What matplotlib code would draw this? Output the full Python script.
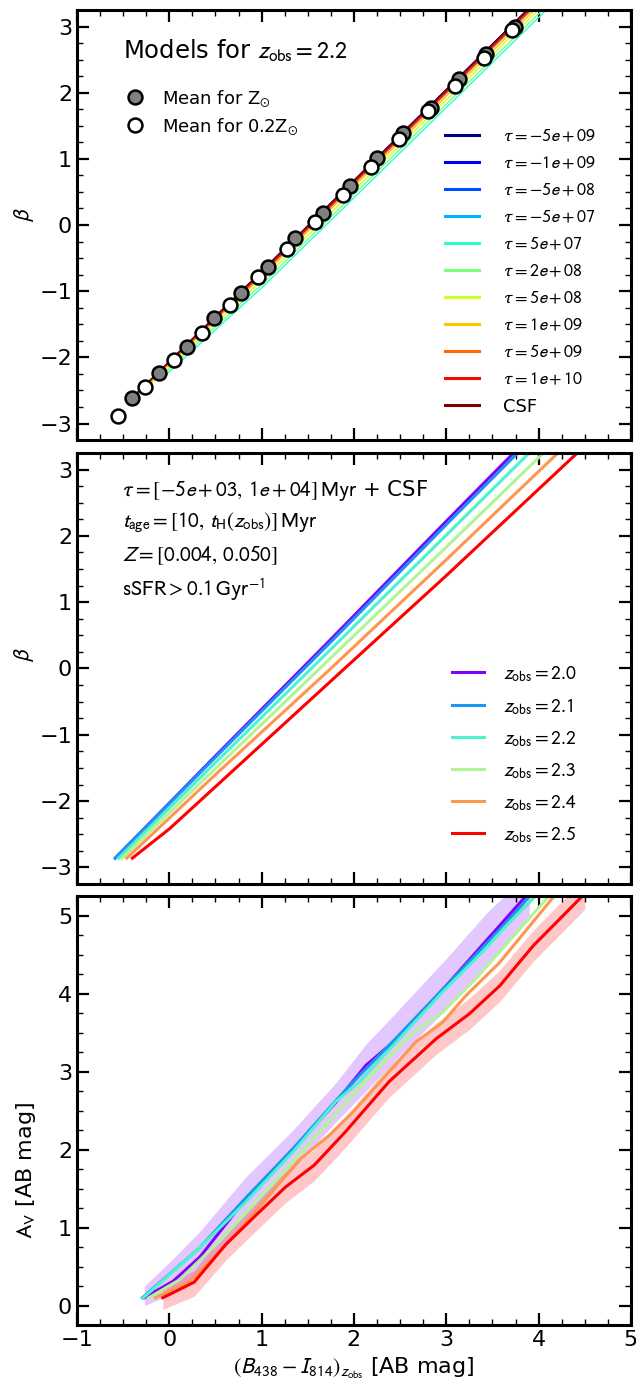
import numpy as np
import matplotlib
matplotlib.use("Agg")
import matplotlib.pyplot as plt
from matplotlib.ticker import MultipleLocator

plt.rcParams['mathtext.fontset'] = 'stixsans'
plt.rcParams['font.family'] = 'DejaVu Sans'

# ---- top panel: beta vs colour for z_obs = 2.2 ----
tau_labels = [r'$\tau=-5e+09$', r'$\tau=-1e+09$', r'$\tau=-5e+08$', r'$\tau=-5e+07$',
              r'$\tau=5e+07$', r'$\tau=2e+08$', r'$\tau=5e+08$', r'$\tau=1e+09$',
              r'$\tau=5e+09$', r'$\tau=1e+10$', 'CSF']
tau_x = [[-0.40, 1.0, 3.95], [-0.40, 1.0, 3.95], [-0.39, 1.0, 3.96], [-0.37, 1.0, 3.98],
         [-0.05, 1.0, 4.12], [-0.10, 1.0, 4.08], [-0.20, 1.0, 4.03], [-0.30, 1.0, 4.00],
         [-0.35, 1.0, 3.97], [-0.38, 1.0, 3.96], [-0.40, 1.0, 3.95]]
tau_b = [[-2.61, -0.70, 3.35], [-2.61, -0.70, 3.35], [-2.60, -0.71, 3.34], [-2.58, -0.74, 3.33],
         [-2.28, -0.95, 3.30], [-2.30, -0.90, 3.30], [-2.40, -0.84, 3.30], [-2.50, -0.78, 3.31],
         [-2.55, -0.75, 3.32], [-2.58, -0.73, 3.33], [-2.61, -0.70, 3.35]]

mean_sol_x = [-0.404, -0.108, 0.187, 0.48, 0.777, 1.073, 1.36, 1.66, 1.958, 2.246, 2.535, 2.835, 3.135, 3.43, 3.74]
mean_sol_b = [-2.61, -2.23, -1.84, -1.41, -1.03, -0.63, -0.20, 0.175, 0.588, 1.02, 1.397, 1.774, 2.21, 2.58, 3.0]
mean_low_x = [-0.56, -0.26, 0.047, 0.354, 0.658, 0.965, 1.27, 1.574, 1.877, 2.185, 2.49, 2.80, 3.09, 3.41, 3.71]
mean_low_b = [-2.89, -2.45, -2.04, -1.63, -1.21, -0.79, -0.36, 0.05, 0.457, 0.87, 1.30, 1.72, 2.10, 2.53, 2.94]

# ---- middle panel: beta vs colour for several z_obs ----
z_labels = [r'$z_{\rm obs}=2.0$', r'$z_{\rm obs}=2.1$', r'$z_{\rm obs}=2.2$',
            r'$z_{\rm obs}=2.3$', r'$z_{\rm obs}=2.4$', r'$z_{\rm obs}=2.5$']
beta_x = [[-0.585, 0.5, 1.75, 3.0, 3.85],
          [-0.585, 0.5, 1.75, 3.0, 3.88],
          [-0.55, 0.5, 1.75, 3.0, 4.0],
          [-0.51, 0.5, 1.75, 3.0, 4.15],
          [-0.46, 0.5, 1.75, 3.0, 4.3],
          [-0.40, 0.0, 1.75, 3.0, 4.55]]
beta_y = [[-2.86, -1.32, 0.44, 2.22, 3.42],
          [-2.86, -1.34, 0.40, 2.17, 3.40],
          [-2.86, -1.42, 0.29, 2.01, 3.39],
          [-2.86, -1.51, 0.16, 1.83, 3.38],
          [-2.86, -1.60, 0.00, 1.64, 3.37],
          [-2.86, -2.42, -0.19, 1.40, 3.42]]

# ---- bottom panel: A_V vs colour ----
av_x = [[-0.27, 0.04, 0.33, 0.83, 1.34, 1.80, 2.13, 2.45, 3.00, 3.45, 3.90],
        [-0.29, 0.33, 0.83, 1.34, 1.80, 2.06, 2.45, 3.00, 3.65, 4.00],
        [-0.28, 0.33, 0.83, 1.34, 1.80, 2.06, 2.49, 2.96, 3.39, 3.65, 4.05],
        [-0.22, 0.11, 0.54, 0.98, 1.34, 1.77, 2.13, 2.60, 2.96, 3.32, 3.76, 4.15],
        [-0.15, 0.22, 0.58, 0.98, 1.41, 1.73, 1.99, 2.67, 2.96, 3.21, 3.58, 4.19],
        [-0.07, 0.27, 0.61, 0.94, 1.26, 1.57, 1.91, 2.38, 2.89, 3.25, 3.58, 3.94, 4.50]]
av_y = [[0.10, 0.31, 0.62, 1.37, 2.00, 2.60, 3.08, 3.40, 4.10, 4.70, 5.30],
        [0.10, 0.74, 1.38, 2.01, 2.62, 2.95, 3.42, 4.10, 4.91, 5.38],
        [0.10, 0.74, 1.33, 1.97, 2.61, 2.87, 3.42, 4.02, 4.53, 4.87, 5.35],
        [0.10, 0.33, 0.82, 1.38, 1.84, 2.42, 2.88, 3.46, 3.76, 4.19, 4.78, 5.30],
        [0.10, 0.31, 0.74, 1.27, 1.87, 2.18, 2.48, 3.38, 3.63, 3.97, 4.40, 5.28],
        [0.10, 0.30, 0.78, 1.16, 1.52, 1.80, 2.23, 2.87, 3.42, 3.74, 4.10, 4.61, 5.28]]
# scatter bands for z=2.0 and z=2.5
band_lo = {0: [0.00, 0.15, 0.40, 1.10, 1.75, 2.35, 2.75, 3.15, 3.80, 4.40, 5.00],
           5: [-0.05, 0.12, 0.58, 0.96, 1.32, 1.60, 2.03, 2.67, 3.22, 3.54, 3.90, 4.41, 5.08]}
band_hi = {0: [0.25, 0.60, 0.95, 1.65, 2.25, 2.85, 3.35, 3.75, 4.45, 5.05, 5.55],
           5: [0.25, 0.45, 0.95, 1.35, 1.72, 2.00, 2.43, 3.07, 3.62, 3.94, 4.30, 4.81, 5.48]}

fig = plt.figure(figsize=(6.36, 13.86), dpi=100)
L, W = 0.121, 0.871
ax1 = fig.add_axes([L, 0.6825, W, 0.3103])
ax2 = fig.add_axes([L, 0.3622, W, 0.3110])
ax3 = fig.add_axes([L, 0.0440, W, 0.3095])

jet = plt.get_cmap('jet')
tau_cols = [jet(v) for v in np.linspace(0.0, 0.9, 10)] + [(0.5, 0.0, 0.0)]
rb = plt.get_cmap('rainbow')
z_cols = [rb(v) for v in np.linspace(0, 1, 6)]

# top
line_h = []
for i in range(len(tau_labels)):
    l, = ax1.plot(tau_x[i], tau_b[i], color=tau_cols[i], lw=1.0, label=tau_labels[i])
    line_h.append(l)
m1, = ax1.plot(mean_sol_x, mean_sol_b, 'o', ms=10, mfc='grey', mec='k', mew=1.8,
               label=r'Mean for Z$_{\odot}$')
m2, = ax1.plot(mean_low_x, mean_low_b, 'o', ms=10, mfc='white', mec='k', mew=1.8,
               label=r'Mean for 0.2Z$_{\odot}$')
leg1 = ax1.legend(handles=line_h, loc='upper left', bbox_to_anchor=(0.635, 0.765),
                  frameon=False, fontsize=13, handlelength=1.9, handletextpad=1.3,
                  labelspacing=0.5)
for lh in leg1.get_lines():
    lh.set_linewidth(2.2)
ax1.add_artist(leg1)
ax1.legend(handles=[m1, m2], loc='upper left', bbox_to_anchor=(0.043, 0.857),
           frameon=False, fontsize=13, numpoints=1, handletextpad=0.5, labelspacing=0.4)
ax1.text(0.083, 0.905, r'Models for $z_{\rm obs}=2.2$', transform=ax1.transAxes,
         fontsize=17.5, va='center', ha='left')
ax1.set_ylabel(r'$\beta$', fontsize=16)
ax1.set_ylim(-3.25, 3.25)

# middle
for i in range(6):
    ax2.plot(beta_x[i], beta_y[i], color=z_cols[i], lw=2.2, label=z_labels[i])
ax2.legend(loc='upper left', bbox_to_anchor=(0.645, 0.551), frameon=False,
           fontsize=14.2, handlelength=1.6, handletextpad=1.0, labelspacing=0.62)
info = [r'$\tau=[-5e+03,\,1e+04]\,{\rm Myr}$ + CSF',
        r'$t_{\rm age}=[10,\,t_{\rm H}(z_{\rm obs})]\,{\rm Myr}$',
        r'$Z=[0.004,\,0.050]$',
        r'${\rm sSFR}>0.1\,{\rm Gyr}^{-1}$']
for k, s in enumerate(info):
    ax2.text(0.082, 0.914 - k * 0.0768, s, transform=ax2.transAxes, fontsize=15.3,
             va='center', ha='left')
ax2.set_ylabel(r'$\beta$', fontsize=16)
ax2.set_ylim(-3.25, 3.25)

# bottom
for i in range(6):
    if i in band_lo:
        ax3.fill_between(av_x[i], band_lo[i], band_hi[i], color=z_cols[i], alpha=0.22, lw=0)
for i in range(6):
    ax3.plot(av_x[i], av_y[i], color=z_cols[i], lw=2.2)
ax3.set_ylabel(r'$\mathrm{A_V}$ [AB mag]', fontsize=16)
ax3.set_xlabel(r'$(B_{438}-I_{814})_{z_{\rm obs}}$ [AB mag]', fontsize=16)
ax3.set_ylim(-0.25, 5.25)

for ax in (ax1, ax2, ax3):
    ax.set_xlim(-1, 5)
    ax.xaxis.set_major_locator(MultipleLocator(1))
    ax.xaxis.set_minor_locator(MultipleLocator(0.25))
    ax.yaxis.set_major_locator(MultipleLocator(1))
    ax.yaxis.set_minor_locator(MultipleLocator(0.25))
    ax.tick_params(which='both', direction='in', top=True, right=True, labelsize=16)
    ax.tick_params(which='major', length=8.5, width=1.6)
    ax.tick_params(which='minor', length=4.5, width=1.0)
    for sp in ax.spines.values():
        sp.set_linewidth(2.2)
for ax in (ax1, ax2):
    ax.tick_params(labelbottom=False)
ax1.yaxis.set_label_coords(-0.074, 0.523)
ax2.yaxis.set_label_coords(-0.074, 0.531)
ax3.yaxis.set_label_coords(-0.070, 0.36)

fig.savefig('out.png', dpi=100)
